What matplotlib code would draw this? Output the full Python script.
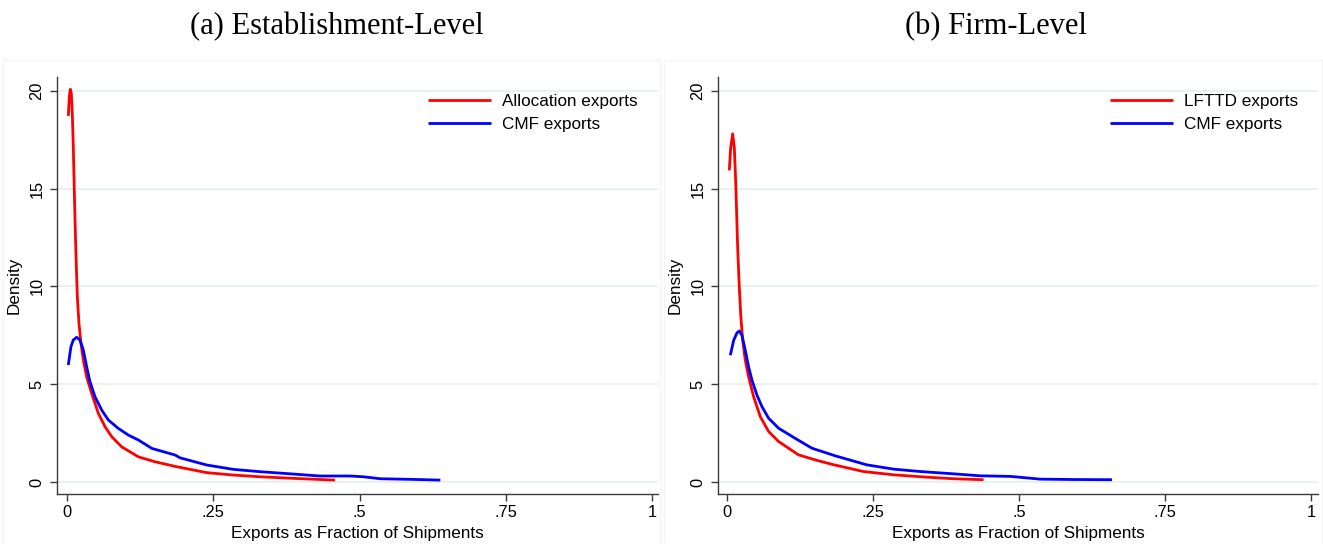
import matplotlib
matplotlib.use("Agg")
import matplotlib.pyplot as plt
from matplotlib.patches import Rectangle

plt.rcParams['font.family'] = ['Liberation Sans', 'DejaVu Sans']

# (a) establishment level
est_alloc_x = [0.0023, 0.004, 0.0057, 0.0074, 0.0091, 0.0108, 0.0125, 0.0142, 0.016, 0.0177,
               0.0205, 0.0239, 0.0279, 0.0336, 0.0422, 0.0536, 0.065, 0.0764, 0.0935, 0.122,
               0.150, 0.185, 0.239, 0.284, 0.33, 0.387, 0.458]
est_alloc_y = [18.71, 19.70, 20.07, 19.87, 18.85, 17.14, 14.93, 12.88, 11.01, 9.47,
               8.11, 7.09, 6.24, 5.38, 4.53, 3.51, 2.83, 2.32, 1.80, 1.29,
               1.04, 0.80, 0.48, 0.36, 0.27, 0.19, 0.10]
est_cmf_x = [0.0023, 0.0068, 0.0108, 0.0165, 0.0222, 0.0279, 0.0336, 0.0393, 0.0479, 0.0593,
             0.0707, 0.0878, 0.105, 0.122, 0.145, 0.185, 0.193, 0.239, 0.284, 0.33,
             0.387, 0.432, 0.484, 0.507, 0.535, 0.586, 0.638]
est_cmf_y = [5.98, 6.92, 7.26, 7.40, 7.26, 6.75, 5.90, 5.13, 4.36, 3.68,
             3.17, 2.74, 2.40, 2.15, 1.72, 1.38, 1.24, 0.87, 0.65, 0.53,
             0.41, 0.31, 0.31, 0.27, 0.17, 0.14, 0.10]

# (b) firm level
firm_lfttd_x = [0.0034, 0.0057, 0.0091, 0.012, 0.0143, 0.016, 0.0177, 0.020, 0.0228, 0.0263,
                0.0308, 0.0365, 0.0451, 0.0565, 0.0708, 0.0879, 0.122, 0.151, 0.180, 0.233,
                0.285, 0.342, 0.388, 0.439]
firm_lfttd_y = [15.93, 17.08, 17.79, 17.08, 15.38, 13.69, 11.99, 10.30, 8.60, 7.24,
                6.22, 5.37, 4.36, 3.34, 2.58, 2.07, 1.39, 1.13, 0.90, 0.54,
                0.37, 0.25, 0.17, 0.12]
firm_cmf_x = [0.0051, 0.0108, 0.0166, 0.0205, 0.0251, 0.0308, 0.0365, 0.0422, 0.0508, 0.0594,
              0.0708, 0.0879, 0.116, 0.145, 0.185, 0.239, 0.285, 0.33, 0.388, 0.433,
              0.485, 0.507, 0.536, 0.593, 0.659]
firm_cmf_y = [6.48, 7.24, 7.63, 7.72, 7.50, 6.73, 5.88, 5.21, 4.44, 3.85,
              3.26, 2.75, 2.24, 1.73, 1.34, 0.88, 0.66, 0.54, 0.42, 0.32,
              0.29, 0.23, 0.15, 0.13, 0.12]

x_ticks = [0, 0.25, 0.5, 0.75, 1]
x_labels = ['0', '.25', '.5', '.75', '1']
y_ticks = [0, 5, 10, 15, 20]

panels = [
    ('(a) Establishment-Level', est_alloc_x, est_alloc_y, 'Allocation exports',
     est_cmf_x, est_cmf_y, [0.0431, 0.0919, 0.4543, 0.7666], (-0.017, 1.010), 0.3235, 0.2547),
    ('(b) Firm-Level', firm_lfttd_x, firm_lfttd_y, 'LFTTD exports',
     firm_cmf_x, firm_cmf_y, [0.5427, 0.0919, 0.4535, 0.7666], (-0.016, 1.012), 0.839, 0.7528),
]

fig = plt.figure(figsize=(13.23, 5.44), dpi=100)
grid_col = '#e8f0f2'
spine_col = '#3a3a3a'

# faint outer frames of the two graph regions
fig.patches.append(Rectangle((0.002, 0.0), 0.497, 0.89, transform=fig.transFigure,
                             fill=False, edgecolor='#f5f5f5', lw=1.0))
fig.patches.append(Rectangle((0.502, 0.0), 0.497, 0.89, transform=fig.transFigure,
                             fill=False, edgecolor='#f5f5f5', lw=1.0))

for title, rx, ry, rlab, bx, by, pos, xl, legx, cx in panels:
    ax = fig.add_axes(pos)
    ax.plot(rx, ry, color='#ff0000', lw=2.0, label=rlab, solid_capstyle='butt')
    ax.plot(bx, by, color='#0000ff', lw=2.0, label='CMF exports', solid_capstyle='butt')
    ax.set_xlim(*xl)
    ax.set_ylim(-0.61, 20.7)
    ax.set_xticks(x_ticks)
    ax.set_xticklabels(x_labels)
    ax.set_yticks(y_ticks)
    ax.set_yticklabels([str(v) for v in y_ticks], rotation=90, va='center')
    ax.yaxis.grid(True, color=grid_col, lw=1.3)
    ax.set_axisbelow(True)
    for s in ['top', 'right']:
        ax.spines[s].set_visible(False)
    for s in ['left', 'bottom']:
        ax.spines[s].set_color(spine_col)
        ax.spines[s].set_linewidth(1.0)
    ax.tick_params(axis='both', colors=spine_col, labelcolor='black', length=5,
                   width=1.0, labelsize=11.8, direction='out')
    ax.tick_params(axis='y', pad=4)
    ax.tick_params(axis='x', pad=3)
    ax.set_xlabel('Exports as Fraction of Shipments', fontsize=12.3, labelpad=4)
    ax.set_ylabel('Density', fontsize=12.3, labelpad=6)
    ax.legend(loc='upper left', bbox_to_anchor=(legx, 0.827), bbox_transform=fig.transFigure,
              frameon=False, fontsize=12.3, handlelength=3.7, handletextpad=0.65,
              labelspacing=0.45, borderpad=0, borderaxespad=0)
    fig.text(cx, 0.952, title, ha='center', va='center', fontsize=22,
             family=['Liberation Serif', 'DejaVu Serif'])

fig.savefig('out.png', dpi=100, facecolor='white')
